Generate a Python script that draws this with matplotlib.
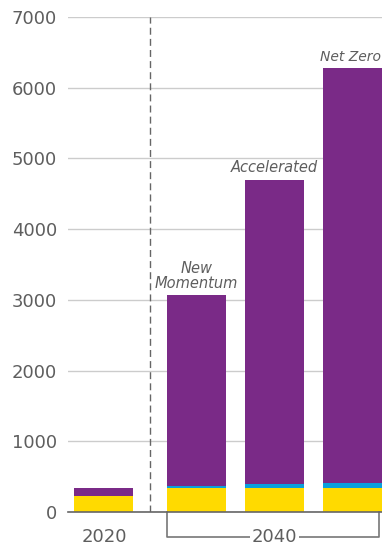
import numpy as np
import matplotlib.pyplot as plt

# values
groups = ["2020", "New\nMomentum", "Accelerated", "Net Zero"]
yellow = [225, 340, 340, 340]
blue = [0, 30, 60, 75]
purple = [115, 2700, 4300, 5865]
yticks = [0, 1000, 2000, 3000, 4000, 5000, 6000, 7000]

c_yellow = "#FFDA00"
c_blue = "#0AA0DC"
c_purple = "#7A2A87"
grey = "#5e5e5e"

plt.rcParams["font.family"] = ["DejaVu Sans"]

fig = plt.figure(figsize=(3.82, 5.47), dpi=100)
ax = fig.add_axes([68 / 382, 35 / 547, 314 / 382, 495 / 547])

x = np.array([0, 1.186, 2.186, 3.186])
w = 0.756
yel = np.array(yellow)
blu = np.array(blue)
pur = np.array(purple)
ax.bar(x, yel, w, color=c_yellow, zorder=3)
ax.bar(x, blu, w, bottom=yel, color=c_blue, zorder=3)
ax.bar(x, pur, w, bottom=yel + blu, color=c_purple, zorder=3)

ax.set_xlim(-0.46, 3.564)
ax.set_ylim(0, 7000)
ax.set_yticks(yticks)
ax.yaxis.grid(True, color="#cccccc", lw=1, zorder=0)
ax.tick_params(axis="y", length=0, pad=8, labelsize=13, labelcolor=grey)
ax.set_xticks([])
for s in ["left", "right", "top"]:
    ax.spines[s].set_visible(False)
ax.spines["bottom"].set_color("#666666")
ax.spines["bottom"].set_linewidth(1.2)
ax.spines["bottom"].set_zorder(4)

# divider between 2020 and 2040
ax.axvline(0.596, color="#666666", lw=1, ls=(0, (5, 3)), zorder=2)

# scenario labels
tot = yel + blu + pur
for xi, t, lab in zip(x[1:3], tot[1:3], groups[1:3]):
    ax.text(xi, t + 60, lab, ha="center", va="bottom", style="italic",
            fontsize=10.5, color=grey, linespacing=1.0)
# last one sits against the right edge
ax.text(3.555, tot[3] + 60, groups[3], ha="right", va="bottom", style="italic",
        fontsize=10, color=grey)

# x labels
ax.text(x[0], -0.05, groups[0], transform=ax.get_xaxis_transform(),
        ha="center", va="center", fontsize=13, color=grey)
ax.text(x[2], -0.05, "2040", transform=ax.get_xaxis_transform(),
        ha="center", va="center", fontsize=13, color=grey, zorder=5,
        bbox=dict(facecolor="white", edgecolor="none", pad=1))
bx0 = x[1] - w / 2
bx1 = 3.53
trans = ax.get_xaxis_transform()
ax.plot([bx0, bx0, bx1, bx1], [0, -0.05, -0.05, 0], transform=trans,
        color="#777777", lw=1.2, clip_on=False, zorder=4)

fig.savefig("out.png", dpi=100)
